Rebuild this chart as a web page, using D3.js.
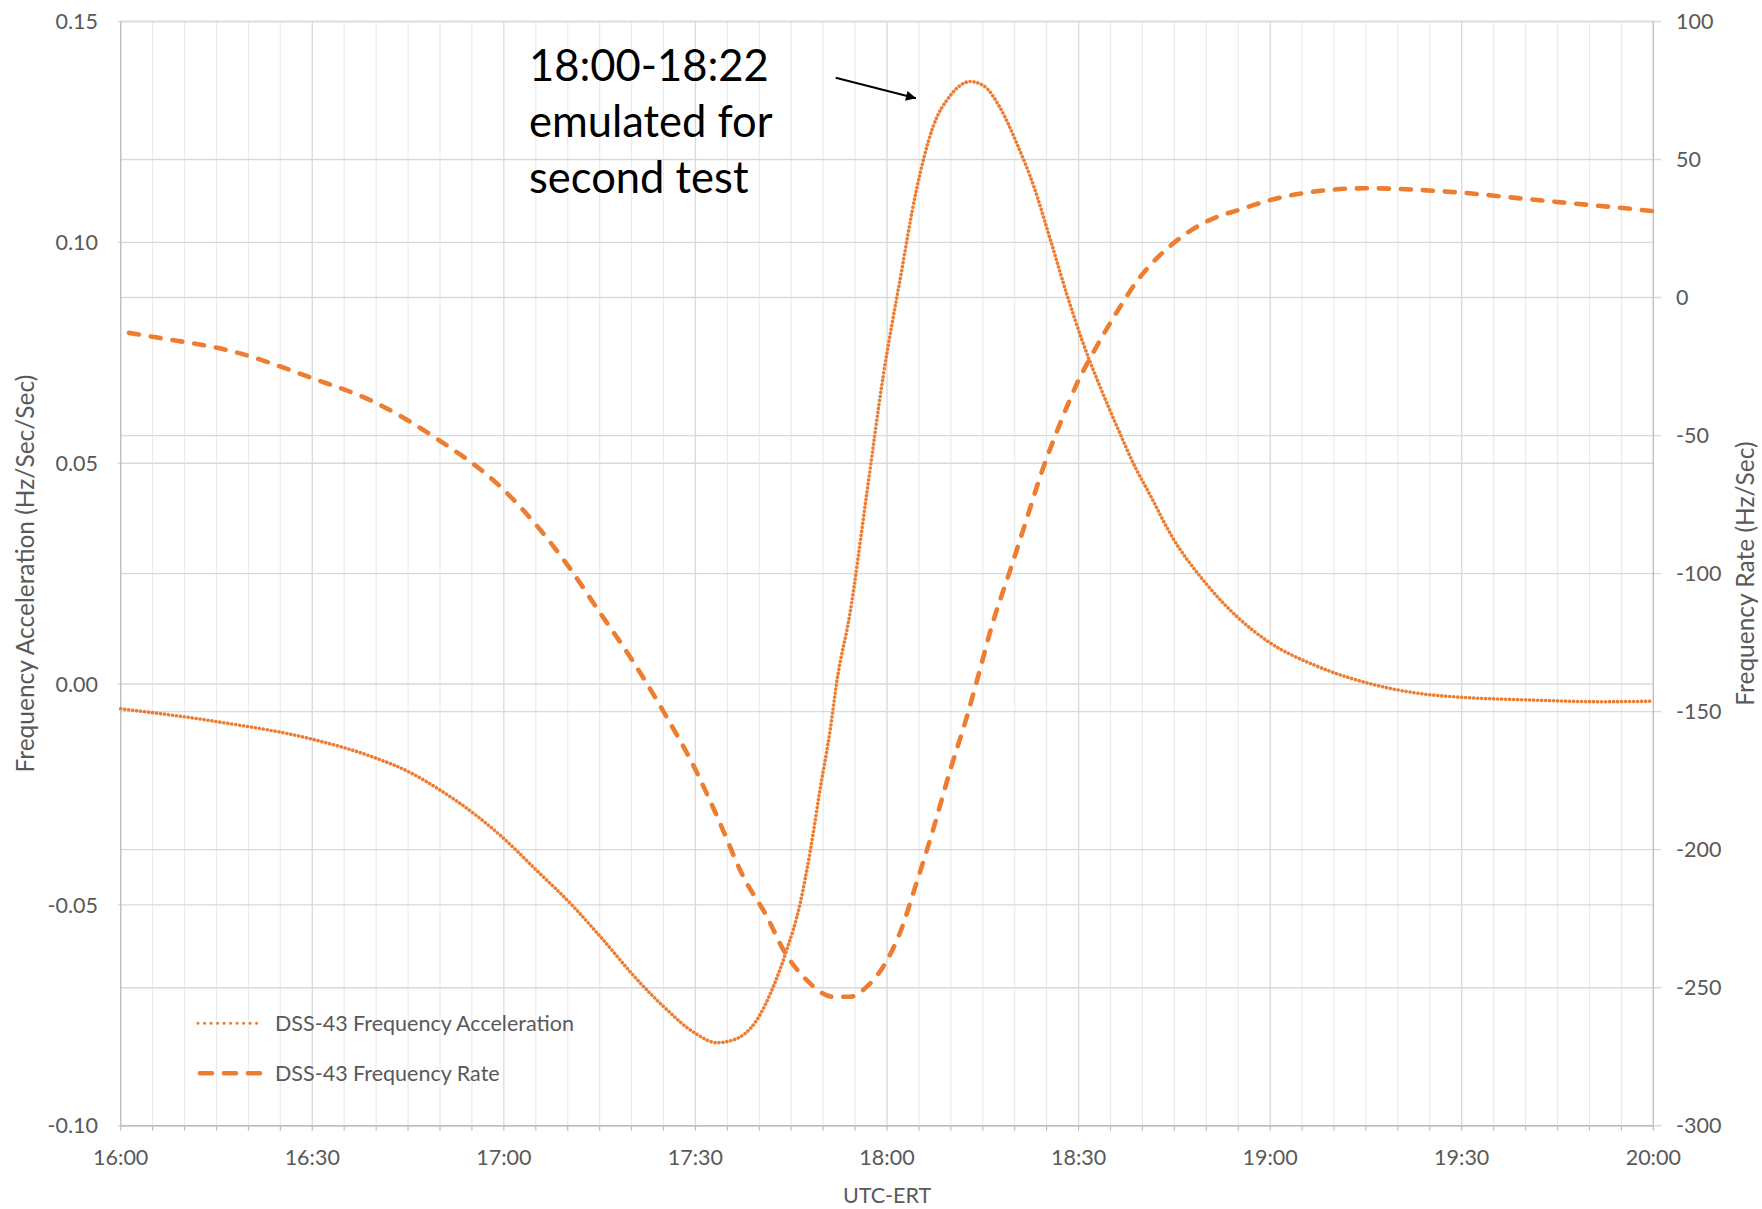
<!DOCTYPE html>
<html>
<head>
<meta charset="utf-8">
<script src="https://cdn.jsdelivr.net/npm/d3@7"></script>
<style>
  html, body { margin: 0; padding: 0; background: #fff; }
  svg { display: block; }
  text { font-family: Lato, "Open Sans", sans-serif; }
</style>
</head>
<body>
<svg id="chart" width="1762" height="1209"></svg>
<script>
// ---- DATA (minutes after 16:00 UTC-ERT) ----
const accMinutes = [0, 15, 30, 40, 45, 50, 55, 59.4, 65, 70.9, 75, 81.3, 85, 90, 93.3, 95.9, 99.6, 102.2, 104.3, 106.4, 108, 109.5, 111.1, 112.1, 114.2, 116.8, 119.4, 122, 124.6, 127.2, 129.9, 133, 135.1, 137.7, 140.3, 143, 145.5, 148.1, 150.8, 153.4, 156.1, 158.9, 161.2, 164.5, 170.1, 175, 179.9, 186.9, 195.3, 203.7, 209.9, 220.5, 231.6, 240];
const accValues  = [-0.0056, -0.0085, -0.0125, -0.0168, -0.0198, -0.0240, -0.0290, -0.0342, -0.0420, -0.0504, -0.0570, -0.0676, -0.0730, -0.0791, -0.0812, -0.0806, -0.0761, -0.0685, -0.0602, -0.0497, -0.0376, -0.0240, -0.0104, 0.0002, 0.0160, 0.0428, 0.0697, 0.0912, 0.1118, 0.1261, 0.1332, 0.1364, 0.1355, 0.1305, 0.1225, 0.1126, 0.1010, 0.0885, 0.0768, 0.0672, 0.0580, 0.0490, 0.0428, 0.0337, 0.0225, 0.0150, 0.0094, 0.0043, 0.0002, -0.0022, -0.0030, -0.0036, -0.0040, -0.0039];

const rateMinutes = [1.3, 6, 17.5, 30, 40, 49, 60, 70, 75, 80, 85, 90, 93.4, 97.5, 101.2, 103.8, 107.4, 111.6, 114.2, 116.8, 119.4, 122, 124.6, 127.2, 129.9, 132.5, 135.1, 136.1, 139.3, 141.3, 144.5, 147.1, 149.7, 152.3, 156.2, 159, 164.5, 170, 175.7, 180, 187, 195, 204, 210, 217.6, 226, 234.4, 240];
const rateValues  = [-12.8, -14.6, -19.5, -29.2, -38.2, -50.4, -69.7, -97, -114, -131, -150, -171, -188, -209.8, -224.3, -236.4, -247.2, -253.3, -253.3, -249.7, -242.4, -230.3, -212.2, -192.9, -171.2, -151.9, -130.1, -121.5, -98.7, -84.4, -61.4, -45.7, -31.4, -19.9, -4.5, 5.5, 19, 27.5, 32.2, 35.3, 38.4, 39.6, 38.9, 38.0, 36.3, 34.4, 32.6, 31.3];

const xTickMinutes = [0, 30, 60, 90, 120, 150, 180, 210, 240];
const xTickLabels  = ["16:00", "16:30", "17:00", "17:30", "18:00", "18:30", "19:00", "19:30", "20:00"];
const leftTicks    = [-0.10, -0.05, 0.00, 0.05, 0.10, 0.15];
const leftLabels   = ["-0.10", "-0.05", "0.00", "0.05", "0.10", "0.15"];
const rightTicks   = [-300, -250, -200, -150, -100, -50, 0, 50, 100];
const rightLabels  = ["-300", "-250", "-200", "-150", "-100", "-50", "0", "50", "100"];

const seriesNames  = ["DSS-43 Frequency Acceleration", "DSS-43 Frequency Rate"];
const annotationLines = ["18:00-18:22", "emulated for", "second test"];
const leftTitle  = "Frequency Acceleration (Hz/Sec/Sec)";
const rightTitle = "Frequency Rate (Hz/Sec)";
const xTitle     = "UTC-ERT";

// ---- LAYOUT ----
const L = 120.7, R = 1653.3, T = 21.5, B = 1125.7;
const ORANGE = "#ED7D31";
const TICKCOL = "#595959";

const svg = d3.select("#chart");
const x  = d3.scaleLinear().domain([0, 240]).range([L, R]);
const yL = d3.scaleLinear().domain([-0.10, 0.15]).range([B, T]);
const yR = d3.scaleLinear().domain([-300, 100]).range([B, T]);

// minor vertical gridlines every 5 min
const minorMin = d3.range(0, 241, 5).filter(m => m % 30 !== 0);
const grid = svg.append("g");
grid.selectAll("line.minor").data(minorMin).join("line")
  .attr("x1", d => x(d)).attr("x2", d => x(d))
  .attr("y1", T).attr("y2", B)
  .attr("stroke", "#EBEBEB").attr("stroke-width", 1.2);
grid.selectAll("line.major").data(xTickMinutes.slice(1, -1)).join("line")
  .attr("x1", d => x(d)).attr("x2", d => x(d))
  .attr("y1", T).attr("y2", B)
  .attr("stroke", "#D9D9D9").attr("stroke-width", 1.3);

// horizontal gridlines from both axes
grid.selectAll("line.hl").data(leftTicks).join("line")
  .attr("x1", L - 3).attr("x2", R)
  .attr("y1", d => yL(d)).attr("y2", d => yL(d))
  .attr("stroke", "#D9D9D9").attr("stroke-width", 1.4);
grid.selectAll("line.hr").data(rightTicks).join("line")
  .attr("x1", L).attr("x2", R + 8)
  .attr("y1", d => yR(d)).attr("y2", d => yR(d))
  .attr("stroke", "#D9D9D9").attr("stroke-width", 1.4);

// axis lines
const axCol = "#BFBFBF";
svg.append("line").attr("x1", L).attr("x2", L).attr("y1", T).attr("y2", B).attr("stroke", axCol).attr("stroke-width", 1.4);
svg.append("line").attr("x1", R).attr("x2", R).attr("y1", T).attr("y2", B).attr("stroke", axCol).attr("stroke-width", 1.4);
svg.append("line").attr("x1", L).attr("x2", R).attr("y1", B).attr("y2", B).attr("stroke", axCol).attr("stroke-width", 1.4);

// bottom tick marks every 5 min
svg.append("g").selectAll("line").data(d3.range(0, 241, 5)).join("line")
  .attr("x1", d => x(d)).attr("x2", d => x(d))
  .attr("y1", B).attr("y2", B + 5)
  .attr("stroke", axCol).attr("stroke-width", 1.2);

// tick labels
const fs = 21.5;
svg.append("g").selectAll("text").data(xTickMinutes).join("text")
  .attr("x", d => x(d)).attr("y", 1165)
  .attr("text-anchor", "middle").attr("fill", TICKCOL).attr("font-size", fs)
  .text((d, i) => xTickLabels[i]);
svg.append("g").selectAll("text").data(leftTicks).join("text")
  .attr("x", 98).attr("y", d => yL(d)).attr("dy", "0.36em")
  .attr("text-anchor", "end").attr("fill", TICKCOL).attr("font-size", fs)
  .text((d, i) => leftLabels[i]);
svg.append("g").selectAll("text").data(rightTicks).join("text")
  .attr("x", 1676).attr("y", d => yR(d)).attr("dy", "0.36em")
  .attr("text-anchor", "start").attr("fill", TICKCOL).attr("font-size", fs)
  .text((d, i) => rightLabels[i]);

// axis titles
const tfs = 24.5;
svg.append("text")
  .attr("transform", `translate(34,${(T + B) / 2}) rotate(-90)`)
  .attr("text-anchor", "middle").attr("fill", TICKCOL).attr("font-size", tfs)
  .text(leftTitle);
svg.append("text")
  .attr("transform", `translate(1754,${(T + B) / 2}) rotate(-90)`)
  .attr("text-anchor", "middle").attr("fill", TICKCOL).attr("font-size", tfs)
  .text(rightTitle);
svg.append("text")
  .attr("x", (L + R) / 2).attr("y", 1203)
  .attr("text-anchor", "middle").attr("fill", TICKCOL).attr("font-size", fs)
  .text(xTitle);

// series
const accData  = accMinutes.map((m, i) => ({ m, v: accValues[i] }));
const rateData = rateMinutes.map((m, i) => ({ m, v: rateValues[i] }));

const accLine = d3.line().x(d => x(d.m)).y(d => yL(d.v)).curve(d3.curveMonotoneX);
const rateLine = d3.line().x(d => x(d.m)).y(d => yR(d.v)).curve(d3.curveMonotoneX);

svg.append("path").datum(rateData).attr("d", rateLine)
  .attr("fill", "none").attr("stroke", ORANGE).attr("stroke-width", 4.6)
  .attr("stroke-dasharray", "10,12").attr("stroke-linecap", "round");

svg.append("path").datum(accData).attr("d", accLine)
  .attr("fill", "none").attr("stroke", ORANGE).attr("stroke-width", 3.6)
  .attr("stroke-dasharray", "0.1,3.9").attr("stroke-linecap", "round");

// legend
const leg = svg.append("g");
const legY = [1023.3, 1073.3];
leg.append("line").attr("x1", 198).attr("x2", 262).attr("y1", legY[0]).attr("y2", legY[0])
  .attr("stroke", ORANGE).attr("stroke-width", 3).attr("stroke-dasharray", "0.1,6.4").attr("stroke-linecap", "round");
leg.append("line").attr("x1", 200).attr("x2", 264).attr("y1", legY[1]).attr("y2", legY[1])
  .attr("stroke", ORANGE).attr("stroke-width", 4.6).attr("stroke-dasharray", "12,12").attr("stroke-linecap", "round");
leg.selectAll("text").data(seriesNames).join("text")
  .attr("x", 275).attr("y", (d, i) => legY[i]).attr("dy", "0.36em")
  .attr("fill", TICKCOL).attr("font-size", fs)
  .text(d => d);

// annotation
const ann = svg.append("g");
ann.selectAll("text").data(annotationLines).join("text")
  .attr("x", 529).attr("y", (d, i) => 81 + i * 56)
  .attr("fill", "#000").attr("font-size", 43.5)
  .text(d => d);

svg.append("defs").append("marker")
  .attr("id", "arrowhead").attr("viewBox", "0 0 10 10")
  .attr("refX", 10).attr("refY", 5)
  .attr("markerWidth", 7).attr("markerHeight", 5).attr("markerUnits", "strokeWidth")
  .attr("orient", "auto")
  .append("path").attr("d", "M0,0 L10,5 L0,10 z").attr("fill", "#000");
svg.append("line")
  .attr("x1", 835.7).attr("y1", 77.7).attr("x2", 916).attr("y2", 98.3)
  .attr("stroke", "#000").attr("stroke-width", 2)
  .attr("marker-end", "url(#arrowhead)");
</script>
</body>
</html>
